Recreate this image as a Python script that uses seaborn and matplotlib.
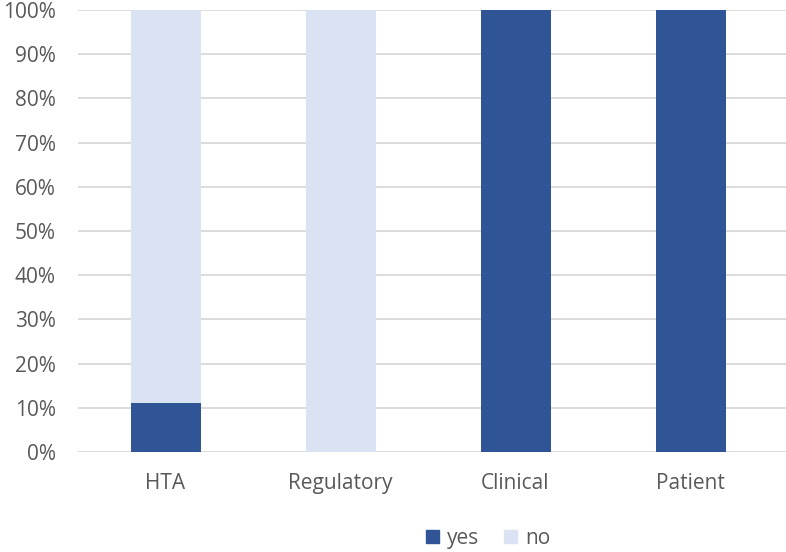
import matplotlib
matplotlib.use("Agg")
import matplotlib.pyplot as plt
import matplotlib.ticker as mtick
from matplotlib.patches import Patch
import seaborn as sns
import pandas as pd

# data (percent of respondents)
categories = ['HTA', 'Regulatory', 'Clinical', 'Patient']
yes_pct = [11.1, 0, 100, 100]
no_pct = [88.9, 100, 0, 0]

dark_blue = '#2F5597'
light_blue = '#DAE3F3'
text_gray = '#595959'

sns.set_theme(style='white')
plt.rcParams['font.family'] = ['Open Sans', 'DejaVu Sans']

df = pd.DataFrame({'category': categories, 'yes': yes_pct, 'no': no_pct})
df['total'] = df['yes'] + df['no']

fig = plt.figure(figsize=(7.86, 5.52), dpi=100)
ax = fig.add_axes([78 / 786, 0.181, 708 / 786, 0.801])

# stacked: full bar in "no" colour, then "yes" on the bottom
sns.barplot(data=df, x='category', y='total', color=light_blue, width=0.4,
            saturation=1, linewidth=0, ax=ax, zorder=2)
sns.barplot(data=df, x='category', y='yes', color=dark_blue, width=0.4,
            saturation=1, linewidth=0, ax=ax, zorder=3)

ax.set_xlim(-0.5, -0.5 + 708 / 175)
ax.set_ylim(0, 100)
ax.set_yticks(range(0, 101, 10))
ax.yaxis.set_major_formatter(mtick.PercentFormatter(decimals=0))
ax.yaxis.grid(True, color='#D9D9D9', linewidth=1.3, zorder=0)
ax.set_axisbelow(True)
for s in ax.spines.values():
    s.set_visible(False)
ax.tick_params(axis='y', length=0, labelsize=15, colors=text_gray, pad=16)
ax.tick_params(axis='x', length=0, labelsize=15, colors=text_gray, pad=15)
ax.set_xlabel('')
ax.set_ylabel('')

handles = [Patch(color=dark_blue, label='yes'), Patch(color=light_blue, label='no')]
fig.legend(handles=handles, loc='center', bbox_to_anchor=(0.621, 0.025), ncol=2,
           frameon=False, fontsize=15, handlelength=0.6, handleheight=0.6,
           columnspacing=1.2, handletextpad=0.4, labelcolor=text_gray)

fig.savefig('out.png', dpi=100)
